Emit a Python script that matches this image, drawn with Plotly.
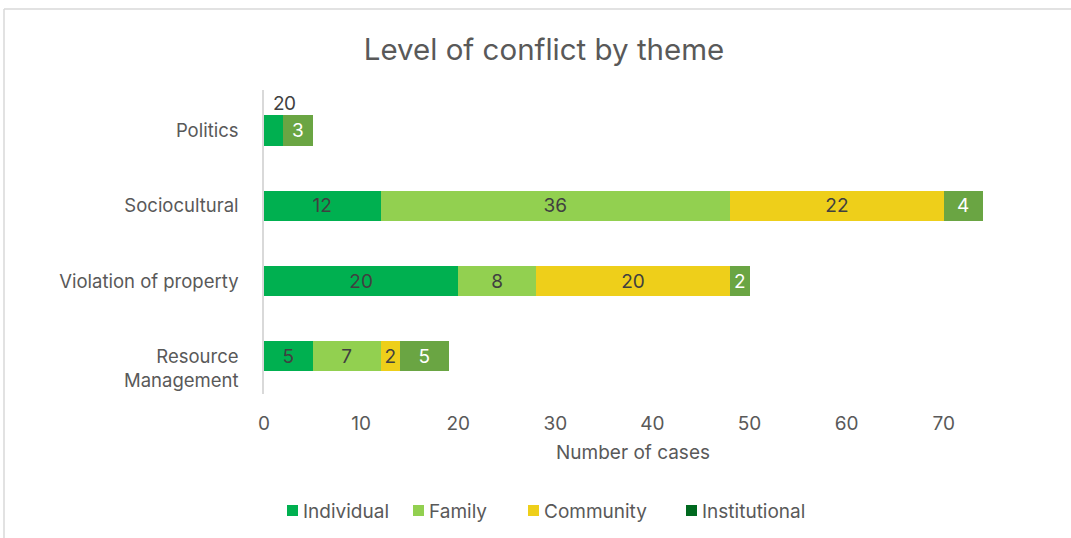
import plotly.graph_objects as go

# Themes, listed bottom to top as drawn on the category axis
themes = ["Resource Management", "Violation of property", "Sociocultural", "Politics"]
theme_labels = ["&nbsp;<br>Resource<br>Management", "Violation of property", "Sociocultural", "Politics"]

series_names = ["Individual", "Family", "Community", "Institutional"]
individual = [5, 20, 12, 2]
family = [7, 8, 36, 0]
community = [2, 20, 22, 0]
institutional = [5, 2, 4, 3]

x_ticks = [0, 10, 20, 30, 40, 50, 60, 70]

c_individual = "#00b050"
c_family = "#92d050"
c_community = "#eecf1a"
c_institutional_bar = "#6aa543"
c_institutional_key = "#00691f"

label_dark = "#404040"
text_grey = "#595959"
font_family = "Inter, 'Open Sans', sans-serif"

# plot area in pixels
W, H = 1071, 538
L, R, T, B = 264, 1002, 90, 394


def px(x):
    return (x - L) / (R - L)


def py(y):
    return (B - y) / (B - T)


fig = go.Figure()


def labels(values, hide_last=False):
    out = [str(v) for v in values]
    if hide_last:
        out[-1] = ""
    return out


series = [
    (series_names[0], individual, c_individual, label_dark),
    (series_names[1], family, c_family, label_dark),
    (series_names[2], community, c_community, label_dark),
]
for name, vals, color, tcolor in series:
    fig.add_trace(go.Bar(
        y=themes, x=vals, name=name, orientation="h",
        marker=dict(color=color, line=dict(width=0)),
        text=labels(vals, hide_last=True), textposition="inside",
        insidetextanchor="middle", constraintext="none",
        textfont=dict(color=tcolor, size=19, family=font_family),
        width=0.4,
    ))

fig.add_trace(go.Bar(
    y=themes, x=institutional, name=series_names[3], orientation="h",
    marker=dict(color=c_institutional_bar, line=dict(width=0)),
    text=labels(institutional), textposition="inside",
    insidetextanchor="middle", constraintext="none",
    textfont=dict(color="white", size=19, family=font_family),
    width=0.4,
))

# Politics: the small individual / family labels sit above the bar
fig.add_annotation(x=individual[3] / 2 + 0.5, y=themes[3], yshift=27,
                   text=str(individual[3]), showarrow=False,
                   font=dict(size=19, color=label_dark, family=font_family))
fig.add_annotation(x=individual[3] + family[3] + 0.7, y=themes[3], yshift=27,
                   text=str(family[3]), showarrow=False,
                   font=dict(size=19, color=label_dark, family=font_family))

# legend keys
key_colors = [c_individual, c_family, c_community, c_institutional_key]
key_x = [287, 413, 528, 686]
key_y = 511
for name, color, kx in zip(series_names, key_colors, key_x):
    fig.add_shape(type="rect", xref="paper", yref="paper",
                  x0=px(kx), x1=px(kx + 11), y0=py(key_y - 6), y1=py(key_y + 5),
                  fillcolor=color, line=dict(width=0))
    fig.add_annotation(xref="paper", yref="paper", x=px(kx + 14), y=py(key_y),
                       xanchor="left", yanchor="middle", text=name, showarrow=False,
                       font=dict(size=19, color=text_grey, family=font_family))

# chart frame
fig.add_shape(type="line", xref="paper", yref="paper",
              x0=px(4), x1=1.2, y0=py(9), y1=py(9),
              line=dict(color="#d9d9d9", width=1.5))
fig.add_shape(type="line", xref="paper", yref="paper",
              x0=px(4), x1=px(4), y0=py(9), y1=-0.6,
              line=dict(color="#d9d9d9", width=1.5))

fig.update_layout(
    barmode="stack",
    width=W, height=H,
    margin=dict(l=L, r=W - R, t=T, b=H - B),
    paper_bgcolor="white", plot_bgcolor="white",
    font=dict(family=font_family, color=text_grey, size=19),
    title=dict(text="Level of conflict by theme", x=px(544), xanchor="center",
               xref="paper", y=1 - 50 / H, yref="container", yanchor="middle",
               font=dict(size=29.5, color=text_grey, family=font_family)),
    xaxis=dict(range=[0, 76], tickvals=x_ticks, showgrid=False, zeroline=False,
               showline=False, ticks="", ticklabelstandoff=16,
               tickfont=dict(size=19, color=text_grey),
               title=dict(text="Number of cases", standoff=11,
                          font=dict(size=19, color=text_grey))),
    yaxis=dict(showgrid=False, zeroline=False, showline=True,
               linecolor="#d9d9d9", linewidth=1.5, ticks="",
               ticklabelstandoff=20, categoryorder="array", categoryarray=themes,
               tickvals=themes, ticktext=theme_labels,
               tickfont=dict(size=18.5, color=text_grey)),
    showlegend=False,
)

fig.write_html("out.html")
